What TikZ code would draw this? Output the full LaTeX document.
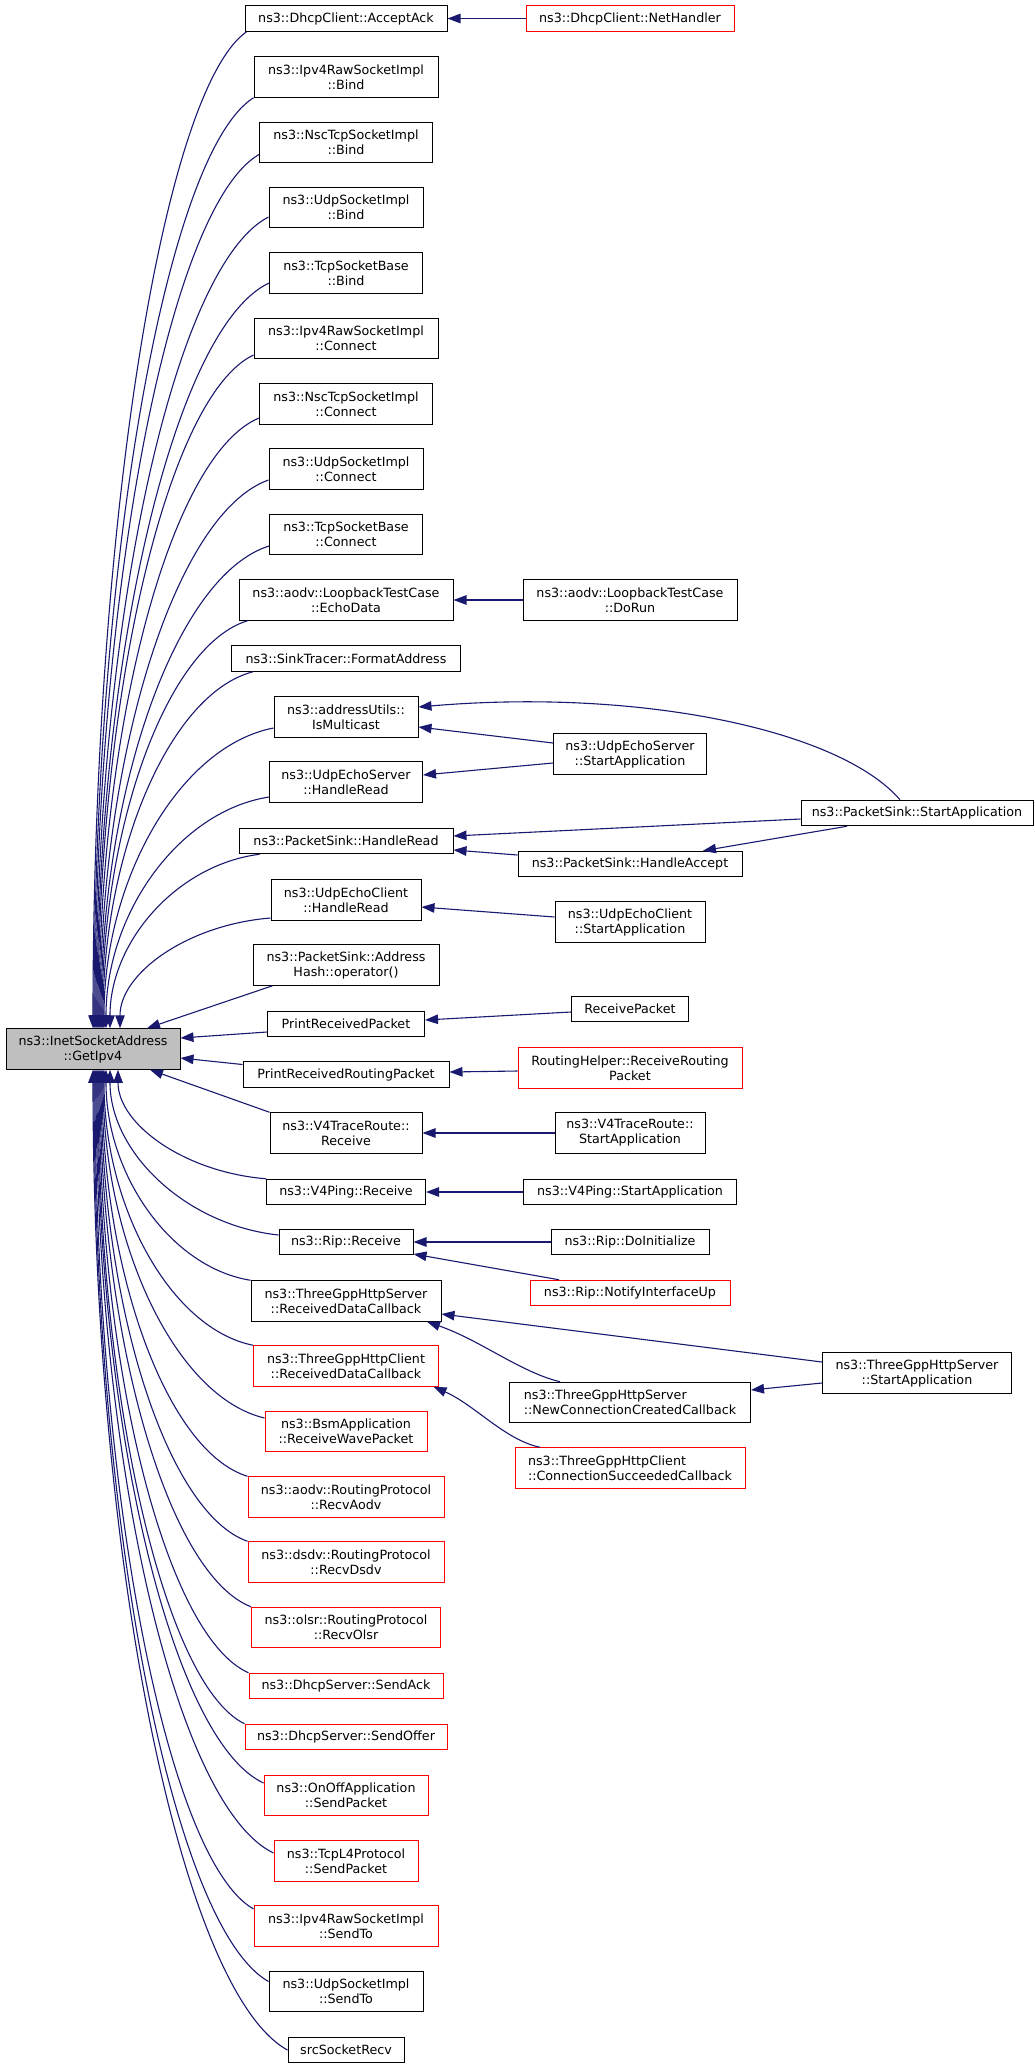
\documentclass[tikz,border=0pt]{standalone}
\usepackage{fontspec}
\setmainfont{DejaVu Sans}
\usetikzlibrary{arrows.meta,calc}
\definecolor{edgecol}{HTML}{191970}
\definecolor{boxgray}{HTML}{BFBFBF}
\definecolor{truncred}{HTML}{FF0000}
\tikzset{
  nbox/.style={draw=black, line width=1pt, fill=white, inner sep=0pt,
    font=\fontsize{12.7pt}{15pt}\selectfont, align=center},
  oneline/.style={nbox, minimum height=25.5pt},
  twoline/.style={nbox, minimum height=40.5pt},
  redbox/.style={draw=truncred},
  calledge/.style={draw=edgecol, line width=1.1pt, -{Triangle[length=13pt,width=9.5pt]}},
}
\newcommand\callcurve[2]{%
  \draw[calledge] let \p1=(#1), \p2=(#2) in (\p1) .. controls
    ({\x1-0.55*(\x1-\x2)},{\y1+0.06*(\y2-\y1)}) and
    ({\x2},{\y1+0.5*(\y2-\y1)}) .. (\p2);}
\begin{document}
\begin{tikzpicture}[x=1pt,y=-1pt]
\useasboundingbox (0,0) rectangle (1035,2069);
\fill[white] (0,0) rectangle (1035,2069);

% target
\node[twoline, fill=boxgray, minimum width=174pt] (getipv4) at (93,1049) {ns3::InetSocketAddress\\::GetIpv4};

% left column
\node[oneline, minimum width=202pt] (accept) at (346,18.5) {ns3::DhcpClient::AcceptAck};
\node[twoline, minimum width=184pt] (rawbind) at (346,77) {ns3::Ipv4RawSocketImpl\\::Bind};
\node[twoline, minimum width=173pt] (nscbind) at (346,142.5) {ns3::NscTcpSocketImpl\\::Bind};
\node[twoline, minimum width=154pt] (udpbind) at (346,207.5) {ns3::UdpSocketImpl\\::Bind};
\node[twoline, minimum width=153pt] (tcpbind) at (346,273) {ns3::TcpSocketBase\\::Bind};
\node[twoline, minimum width=184pt] (rawconn) at (346,338.5) {ns3::Ipv4RawSocketImpl\\::Connect};
\node[twoline, minimum width=173pt] (nscconn) at (346,404) {ns3::NscTcpSocketImpl\\::Connect};
\node[twoline, minimum width=154pt] (udpconn) at (346,469) {ns3::UdpSocketImpl\\::Connect};
\node[twoline, minimum width=153pt] (tcpconn) at (346,534.5) {ns3::TcpSocketBase\\::Connect};
\node[twoline, minimum width=214pt] (echodata) at (346,600) {ns3::aodv::LoopbackTestCase\\::EchoData};
\node[oneline, minimum width=229pt] (formataddr) at (346,658.5) {ns3::SinkTracer::FormatAddress};
\node[twoline, minimum width=144pt] (ismulticast) at (346,717) {ns3::addressUtils::\\IsMulticast};
\node[twoline, minimum width=153pt] (ueshandle) at (346,782) {ns3::UdpEchoServer\\::HandleRead};
\node[oneline, minimum width=214pt] (pshandle) at (346,841) {ns3::PacketSink::HandleRead};
\node[twoline, minimum width=150pt] (uechandle) at (346,900) {ns3::UdpEchoClient\\::HandleRead};
\node[twoline, minimum width=186pt] (addrhash) at (346,965) {ns3::PacketSink::Address\\Hash::operator()};
\node[oneline, minimum width=157pt] (printpkt) at (346,1024) {PrintReceivedPacket};
\node[oneline, minimum width=206pt] (printrpkt) at (346,1074.5) {PrintReceivedRoutingPacket};
\node[twoline, minimum width=152pt] (v4trr) at (346,1133) {ns3::V4TraceRoute::\\Receive};
\node[oneline, minimum width=159pt] (v4pingr) at (346,1192) {ns3::V4Ping::Receive};
\node[oneline, minimum width=134pt] (ripr) at (346,1242) {ns3::Rip::Receive};
\node[twoline, minimum width=190pt] (srvrdc) at (346,1301) {ns3::ThreeGppHttpServer\\::ReceivedDataCallback};
\node[twoline, redbox, minimum width=185pt] (clirdc) at (346,1366) {ns3::ThreeGppHttpClient\\::ReceivedDataCallback};
\node[twoline, redbox, minimum width=162pt] (bsm) at (346,1431.5) {ns3::BsmApplication\\::ReceiveWavePacket};
\node[twoline, redbox, minimum width=196pt] (aodv) at (346,1497) {ns3::aodv::RoutingProtocol\\::RecvAodv};
\node[twoline, redbox, minimum width=196pt] (dsdv) at (346,1562) {ns3::dsdv::RoutingProtocol\\::RecvDsdv};
\node[twoline, redbox, minimum width=189pt] (olsr) at (346,1627.5) {ns3::olsr::RoutingProtocol\\::RecvOlsr};
\node[oneline, redbox, minimum width=194pt] (sendack) at (346,1686) {ns3::DhcpServer::SendAck};
\node[oneline, redbox, minimum width=202pt] (sendoffer) at (346,1737) {ns3::DhcpServer::SendOffer};
\node[twoline, redbox, minimum width=164pt] (onoff) at (346,1795.5) {ns3::OnOffApplication\\::SendPacket};
\node[twoline, redbox, minimum width=144pt] (tcpl4) at (346,1861) {ns3::TcpL4Protocol\\::SendPacket};
\node[twoline, redbox, minimum width=184pt] (rawsendto) at (346,1926) {ns3::Ipv4RawSocketImpl\\::SendTo};
\node[twoline, minimum width=154pt] (udpsendto) at (346,1991.5) {ns3::UdpSocketImpl\\::SendTo};
\node[oneline, minimum width=116pt] (srcsock) at (346,2050) {srcSocketRecv};

% second column
\node[oneline, redbox, minimum width=208pt] (nethandler) at (630,18.5) {ns3::DhcpClient::NetHandler};
\node[twoline, minimum width=214pt] (dorun) at (630,600) {ns3::aodv::LoopbackTestCase\\::DoRun};
\node[twoline, minimum width=153pt] (uesstart) at (630,754) {ns3::UdpEchoServer\\::StartApplication};
\node[oneline, minimum width=224pt] (psaccept) at (630,864) {ns3::PacketSink::HandleAccept};
\node[twoline, minimum width=150pt] (uecstart) at (630,922) {ns3::UdpEchoClient\\::StartApplication};
\node[oneline, minimum width=117pt] (recvpkt) at (630,1009) {ReceivePacket};
\node[twoline, redbox, minimum width=224pt] (rhelper) at (630,1068) {RoutingHelper::ReceiveRouting\\Packet};
\node[twoline, minimum width=150pt] (v4trstart) at (630,1133) {ns3::V4TraceRoute::\\StartApplication};
\node[oneline, minimum width=213pt] (v4pingstart) at (630,1192) {ns3::V4Ping::StartApplication};
\node[oneline, minimum width=158pt] (ripinit) at (630,1242) {ns3::Rip::DoInitialize};
\node[oneline, redbox, minimum width=200pt] (ripnotify) at (630,1293) {ns3::Rip::NotifyInterfaceUp};
\node[twoline, align=left, minimum width=241pt] (newconn) at (630,1402.5) {ns3::ThreeGppHttpServer\\::NewConnectionCreatedCallback};
\node[twoline, redbox, align=left, minimum width=230pt] (connsucc) at (630,1468) {ns3::ThreeGppHttpClient\\::ConnectionSucceededCallback};

% third column
\node[oneline, minimum width=232pt] (psstart) at (917,813) {ns3::PacketSink::StartApplication};
\node[twoline, minimum width=189pt] (srvstart) at (917,1373) {ns3::ThreeGppHttpServer\\::StartApplication};

% edges into GetIpv4 from above
\callcurve{$(accept.south west)+(2,0)$}{$(getipv4.north)+(0,0)$}
\callcurve{rawbind.south west}{$(getipv4.north)+(1,0)$}
\callcurve{$(nscbind.west)+(0,12)$}{$(getipv4.north)+(2,0)$}
\callcurve{$(udpbind.west)+(0,9.5)$}{$(getipv4.north)+(3,0)$}
\callcurve{$(tcpbind.west)+(0,10)$}{$(getipv4.north)+(4,0)$}
\callcurve{$(rawconn.west)+(0,16.5)$}{$(getipv4.north)+(5,0)$}
\callcurve{$(nscconn.west)+(0,14)$}{$(getipv4.north)+(6,0)$}
\callcurve{$(udpconn.west)+(0,11)$}{$(getipv4.north)+(7,0)$}
\callcurve{$(tcpconn.west)+(0,11.5)$}{$(getipv4.north)+(8,0)$}
\callcurve{$(echodata.south west)+(9,0)$}{$(getipv4.north)+(9,0)$}
\callcurve{$(formataddr.south west)+(22,0)$}{$(getipv4.north)+(10,0)$}
\callcurve{$(ismulticast.west)+(0,11)$}{$(getipv4.north)+(11,0)$}
\callcurve{$(ueshandle.west)+(0,15)$}{$(getipv4.north)+(13,0)$}
\callcurve{$(pshandle.south west)+(21,0)$}{$(getipv4.north)+(17,0)$}
\callcurve{$(uechandle.west)+(0,18)$}{$(getipv4.north)+(27,0)$}
\draw[calledge] ($(addrhash.south west)+(20,0)$) -- ($(getipv4.north)+(54,0)$);
\draw[calledge] ($(printpkt.west)+(0,8)$) -- ($(getipv4.east)+(0,-11)$);

% edges into GetIpv4 from below
\draw[calledge] ($(printrpkt.west)+(0,-10)$) -- ($(getipv4.east)+(0,9)$);
\draw[calledge] (v4trr.north west) -- ($(getipv4.south)+(57,0)$);
\callcurve{v4pingr.north west}{$(getipv4.south)+(25,0)$}
\callcurve{$(ripr.west)+(0,-7)$}{$(getipv4.south)+(17,0)$}
\callcurve{srvrdc.north west}{$(getipv4.south)+(13,0)$}
\callcurve{clirdc.north west}{$(getipv4.south)+(11,0)$}
\callcurve{$(bsm.west)+(0,-13.5)$}{$(getipv4.south)+(10,0)$}
\callcurve{aodv.north west}{$(getipv4.south)+(9,0)$}
\callcurve{dsdv.north west}{$(getipv4.south)+(8,0)$}
\callcurve{olsr.north west}{$(getipv4.south)+(7,0)$}
\callcurve{sendack.north west}{$(getipv4.south)+(6,0)$}
\callcurve{sendoffer.north west}{$(getipv4.south)+(5,0)$}
\callcurve{$(onoff.west)+(0,-12.5)$}{$(getipv4.south)+(4,0)$}
\callcurve{$(tcpl4.west)+(0,-8)$}{$(getipv4.south)+(3,0)$}
\callcurve{$(rawsendto.west)+(0,-17)$}{$(getipv4.south)+(2,0)$}
\callcurve{$(udpsendto.west)+(0,-10)$}{$(getipv4.south)+(1,0)$}
\callcurve{srcsock.west}{$(getipv4.south)+(0,0)$}

% second/third column edges
\draw[calledge] (nethandler.west) -- (accept.east);
\draw[calledge] (dorun.west) -- (echodata.east);
\draw[calledge] ($(uesstart.west)+(0,-11)$) -- ($(ismulticast.east)+(0,10)$);
\draw[calledge] ($(psstart.north)+(-17,0)$) .. controls (840,730) and (640,688) .. ($(ismulticast.east)+(0,-10)$);
\draw[calledge] ($(uesstart.west)+(0,9)$) -- ($(ueshandle.east)+(0,-7)$);
\draw[calledge] ($(psstart.west)+(0,6)$) -- ($(pshandle.east)+(0,-5)$);
\draw[calledge] ($(psaccept.west)+(0,-9)$) -- ($(pshandle.east)+(0,9)$);
\draw[calledge] ($(psstart.south)+(-70,0)$) -- ($(psaccept.north)+(73,0)$);
\draw[calledge] ($(uecstart.west)+(0,-5)$) -- ($(uechandle.east)+(0,7)$);
\draw[calledge] ($(recvpkt.west)+(0,3)$) -- ($(printpkt.east)+(0,-4)$);
\draw[calledge] ($(rhelper.west)+(0,3)$) -- ($(printrpkt.east)+(0,-2.5)$);
\draw[calledge] (v4trstart.west) -- (v4trr.east);
\draw[calledge] (v4pingstart.west) -- (v4pingr.east);
\draw[calledge] (ripinit.west) -- (ripr.east);
\draw[calledge] ($(ripnotify.north)+(-71,0)$) -- ($(ripr.east)+(0,12)$);
\draw[calledge] ($(srvstart.west)+(0,-11)$) -- ($(srvrdc.east)+(0,13)$);
\draw[calledge] ($(newconn.north)+(-70,0)$) .. controls (520,1372) and (480,1340) .. ($(srvrdc.south)+(81,0)$);
\draw[calledge] ($(srvstart.west)+(0,10)$) -- ($(newconn.east)+(0,-12.5)$);
\draw[calledge] ($(connsucc.north)+(-90,0)$) .. controls (505,1440) and (475,1405) .. ($(clirdc.south)+(87.5,0)$);
\end{tikzpicture}
\end{document}
